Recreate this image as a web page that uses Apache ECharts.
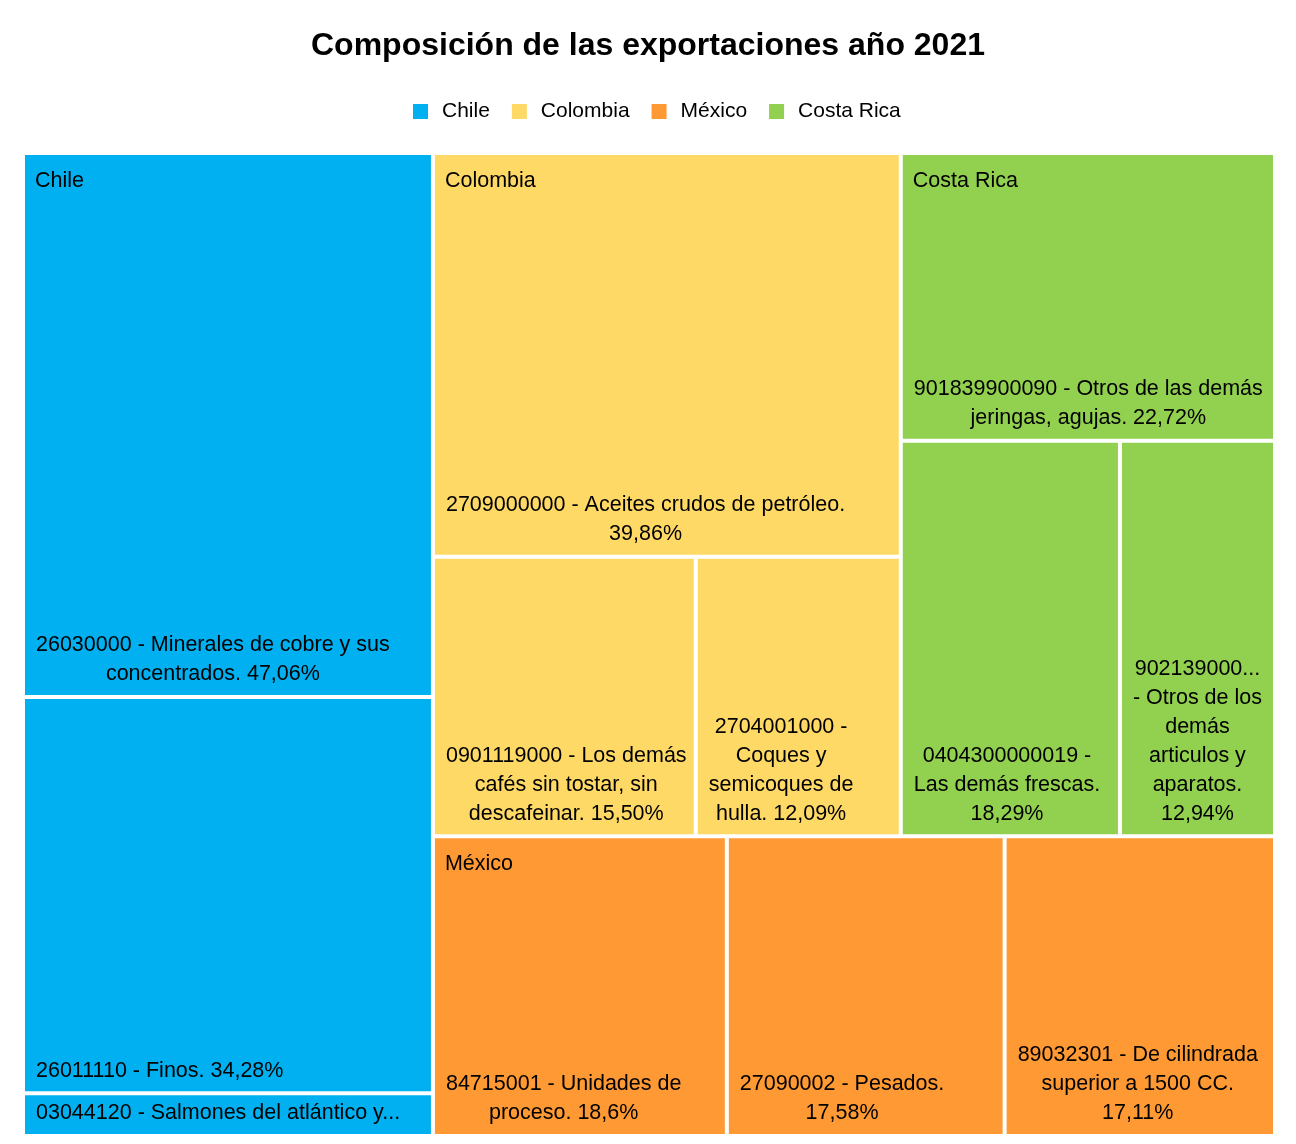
<!DOCTYPE html>
<html>
<head>
<meta charset="utf-8">
<title>Composición de las exportaciones año 2021</title>
<script src="https://cdn.jsdelivr.net/npm/echarts@6/dist/echarts.min.js"></script>
<style>
	html, body { margin: 0; padding: 0; background: #fff; }
	#frame {
		position: absolute; left: 8px; top: 6px; width: 1283px; height: 1160px;
		border: 2px solid #e2e2e2; box-sizing: border-box;
	}
	#main { position: absolute; left: 0; top: 0; width: 1296px; height: 1144px; }
</style>
</head>
<body>
<div id="frame"></div>
<div id="main"></div>
<script>
const FONT = '"Liberation Sans", Arial, sans-serif';
const LABEL_SIZE = 21.5;
const NONE = 'rgba(0,0,0,0)';

const countries = ['Chile', 'Colombia', 'México', 'Costa Rica'];
const countryColors = ['#00B0F0', '#FFD966', '#FF9933', '#92D050'];

// % de las exportaciones de cada país
const chileValues = [47.06, 34.28, 3.7];
const chileLabels = [
	'26030000 - Minerales de cobre y sus\nconcentrados. 47,06%',
	'26011110 - Finos. 34,28%',
	'03044120 - Salmones del atlántico y...',
];

const colombiaValues = [39.86, 15.50, 12.09];
const colombiaLabels = [
	'2709000000 - Aceites crudos de petróleo.\n39,86%',
	'0901119000 - Los demás\ncafés sin tostar, sin\ndescafeinar. 15,50%',
	'2704001000 -\nCoques y\nsemicoques de\nhulla. 12,09%',
];

const mexicoValues = [18.6, 17.58, 17.11];
const mexicoLabels = [
	'84715001 - Unidades de\nproceso. 18,6%',
	'27090002 - Pesados.\n17,58%',
	'89032301 - De cilindrada\nsuperior a 1500 CC.\n17,11%',
];

const costaRicaValues = [22.72, 18.29, 12.94];
const costaRicaLabels = [
	'901839900090 - Otros de las demás\njeringas, agujas. 22,72%',
	'0404300000019 -\nLas demás frescas.\n18,29%',
	'902139000...\n- Otros de los\ndemás\narticulos y\naparatos.\n12,94%',
];

const sum = (arr) => arr.reduce((a, b) => a + b, 0);

// Excel deja el bloque de texto pegado a la izquierda con las lineas centradas
// entre si; para eso hace falta el ancho de la linea mas larga
const measureCtx = document.createElement('canvas').getContext('2d');
measureCtx.font = LABEL_SIZE + 'px ' + FONT;
const blockWidth = (text) =>
	Math.max(...text.split('\n').map((l) => measureCtx.measureText(l).width));

const countryNode = (i, labels, values) => ({
	name: countries[i],
	children: values.map((v, k) => ({
		name: labels[k],
		value: v,
		itemStyle: { color: countryColors[i] },
		label: { offset: [6 + blockWidth(labels[k]) / 2, 0] },
	})),
});

// el squarify de echarts no deja a Chile sola en la columna izquierda,
// asi que el resto de paises va dentro de un nodo auxiliar sin dibujo propio
const leafTree = [
	countryNode(0, chileLabels, chileValues),
	{
		name: 'resto',
		children: [
			countryNode(1, colombiaLabels, colombiaValues),
			countryNode(3, costaRicaLabels, costaRicaValues),
			countryNode(2, mexicoLabels, mexicoValues),
		],
	},
];

// mismo arbol pero solo hasta pais, para poner el nombre arriba a la izquierda
const clear = { color: NONE, borderColor: NONE };
const countryTree = [
	{ name: countries[0], value: sum(chileValues), itemStyle: clear },
	{
		name: 'resto',
		itemStyle: clear,
		children: [
			{ name: countries[1], value: sum(colombiaValues), itemStyle: clear },
			{ name: countries[3], value: sum(costaRicaValues), itemStyle: clear },
			{ name: countries[2], value: sum(mexicoValues), itemStyle: clear },
		],
	},
];

const box = { left: 25, top: 155, width: 1248, height: 979 };

const treemapBase = {
	type: 'treemap',
	left: box.left,
	top: box.top,
	width: box.width,
	height: box.height,
	squareRatio: 1.265,
	sort: false,
	roam: false,
	nodeClick: false,
	breadcrumb: { show: false },
	upperLabel: { show: false },
};

const whiteGaps = { borderWidth: 0, gapWidth: 4, borderColor: '#fff' };
const clearGaps = { borderWidth: 0, gapWidth: 4, borderColor: NONE, color: NONE };

const chart = echarts.init(document.getElementById('main'));

chart.setOption({
	animation: false,
	backgroundColor: '#fff',
	title: {
		text: 'Composición de las exportaciones año 2021',
		left: 'center',
		top: 25,
		textStyle: {
			fontFamily: FONT,
			fontSize: 32,
			fontWeight: 'bold',
			color: '#000',
		},
	},
	legend: {
		data: countries,
		top: 96,
		left: 408,
		icon: 'rect',
		itemWidth: 15,
		itemHeight: 15,
		itemGap: 22,
		selectedMode: false,
		textStyle: {
			fontFamily: FONT,
			fontSize: 21,
			color: '#000',
			padding: [0, 0, 0, 9],
		},
	},
	series: [
		Object.assign({}, treemapBase, {
			name: 'productos',
			itemStyle: whiteGaps,
			levels: [
				{ itemStyle: whiteGaps },
				{ itemStyle: whiteGaps },
				{ itemStyle: whiteGaps },
				{ itemStyle: whiteGaps },
			],
			label: {
				show: true,
				position: 'insideBottomLeft',
				align: 'center',
				distance: 5,
				padding: [0, 0, 1, 0],
				color: '#000',
				fontFamily: FONT,
				fontSize: LABEL_SIZE,
				lineHeight: 29,
				overflow: 'none',
			},
			data: leafTree,
		}),
		Object.assign({}, treemapBase, {
			name: 'paises',
			silent: true,
			z: 5,
			color: [NONE],
			itemStyle: clearGaps,
			levels: [
				{ itemStyle: clearGaps, color: [NONE] },
				{ itemStyle: clearGaps, color: [NONE] },
				{ itemStyle: clearGaps },
			],
			label: {
				show: true,
				position: 'insideTopLeft',
				distance: 5,
				padding: [7, 5, 0, 5],
				color: '#000',
				fontFamily: FONT,
				fontSize: LABEL_SIZE,
				lineHeight: 28,
				overflow: 'none',
			},
			data: countryTree,
		}),
		{
			// solo para la leyenda
			type: 'pie',
			silent: true,
			radius: 0,
			center: [-50, -50],
			label: { show: false },
			labelLine: { show: false },
			data: countries.map((c, i) => ({
				name: c,
				value: 1,
				itemStyle: { color: countryColors[i] },
			})),
		},
	],
});
</script>
</body>
</html>
